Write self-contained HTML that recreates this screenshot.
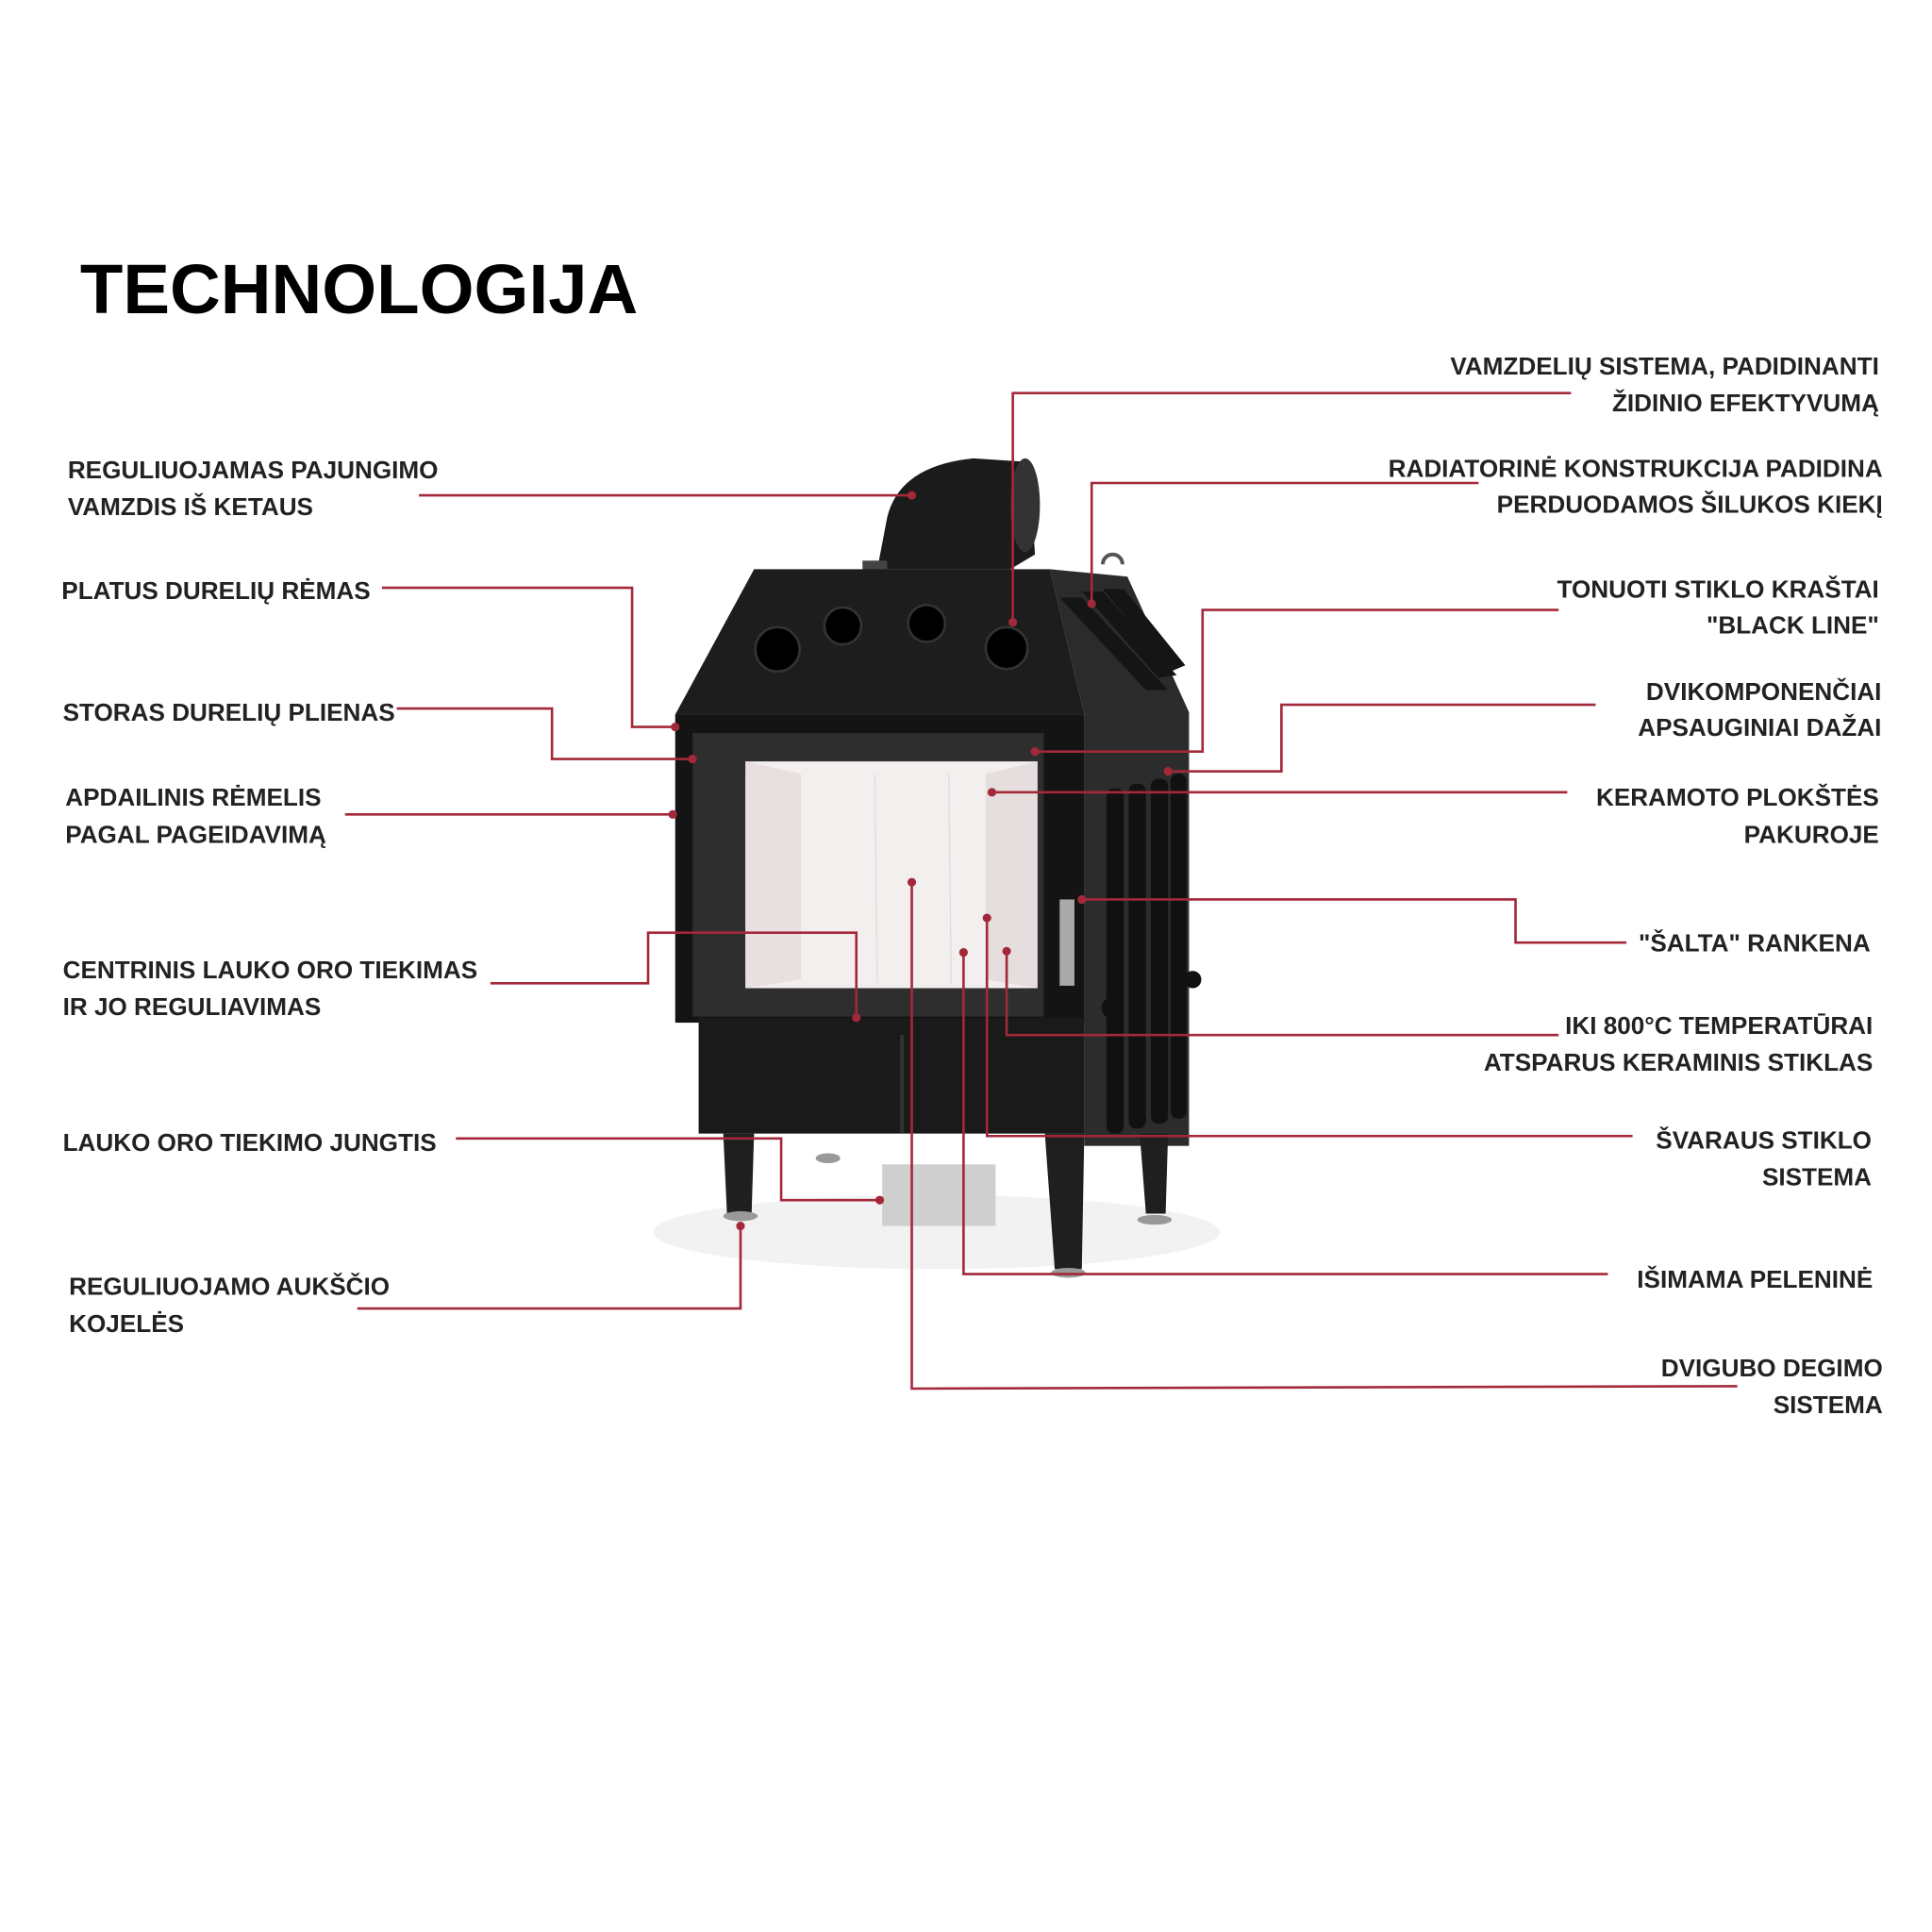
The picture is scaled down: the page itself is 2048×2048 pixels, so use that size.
<!DOCTYPE html>
<html><head><meta charset="utf-8"><style>
html,body{margin:0;padding:0;background:#fff}
svg{display:block}
text{font-family:"Liberation Sans",sans-serif;font-weight:bold;fill:#222}
</style></head><body>
<svg width="2048" height="2048" viewBox="0 0 1568 1568" xmlns="http://www.w3.org/2000/svg">
<rect width="1568" height="1568" fill="#fff"/>
<text x="65" y="254" font-size="57" style="fill:#000">TECHNOLOGIJA</text>

<g>
<ellipse cx="760" cy="1000" rx="230" ry="30" fill="#f2f2f2"/>
<rect x="716" y="945" width="92" height="50" fill="#cfcfcf"/>
<path d="M712,462 L720,420 Q730,378 790,372 L835,375 L840,450 L820,462 Z" fill="#1b1b1b"/>
<ellipse cx="832" cy="410" rx="12" ry="38" fill="#333"/>
<rect x="700" y="455" width="20" height="10" fill="#444"/>
<polygon points="612,462 852,462 880,580 548,580" fill="#1d1d1d"/>
<polygon points="852,462 915,468 965,578 880,580" fill="#2b2b2b"/>
<path d="M895,458 a8,8 0 1 1 16,0" fill="none" stroke="#555" stroke-width="3"/>
<g fill="#151515">
<polygon points="860,485 878,485 948,560 930,560"/>
<polygon points="878,480 895,480 955,548 940,550"/>
<polygon points="895,478 912,478 962,540 950,545"/>
</g>
<circle cx="631" cy="527" r="18" fill="#000" stroke="#333" stroke-width="2"/>
<circle cx="684" cy="508" r="15" fill="#000" stroke="#333" stroke-width="2"/>
<circle cx="752" cy="506" r="15" fill="#000" stroke="#333" stroke-width="2"/>
<circle cx="817" cy="526" r="17" fill="#000" stroke="#333" stroke-width="2"/>
<rect x="880" y="578" width="85" height="352" fill="#2c2c2c"/>
<g fill="#111">
<rect x="898" y="640" width="14" height="280" rx="6"/>
<rect x="916" y="636" width="14" height="280" rx="6"/>
<rect x="934" y="632" width="14" height="280" rx="6"/>
<rect x="950" y="628" width="13" height="280" rx="6"/>
</g>
<circle cx="968" cy="795" r="7" fill="#111"/>
<circle cx="903" cy="818" r="9" fill="#111"/>
<rect x="548" y="580" width="332" height="250" fill="#141414"/>
<rect x="562" y="595" width="285" height="230" fill="#2e2e2e"/>
<polygon points="605,618 842,618 842,802 605,802" fill="#f4efef"/>
<polygon points="605,618 650,628 650,795 605,802" fill="#e8e0e0"/>
<polygon points="842,618 800,628 800,795 842,802" fill="#e6dede"/>
<line x1="710" y1="628" x2="712" y2="798" stroke="#ddd"/>
<line x1="770" y1="628" x2="772" y2="798" stroke="#ddd"/>
<rect x="860" y="730" width="12" height="70" fill="#aaa"/>
<rect x="567" y="826" width="313" height="94" fill="#1a1a1a"/>
<line x1="732" y1="840" x2="732" y2="920" stroke="#333" stroke-width="3"/>
<polygon points="587,920 612,920 610,985 590,985" fill="#1f1f1f"/>
<polygon points="848,920 880,920 878,1030 856,1030" fill="#1f1f1f"/>
<polygon points="925,920 948,920 946,985 930,985" fill="#1f1f1f"/>
<ellipse cx="601" cy="987" rx="14" ry="4" fill="#999"/>
<ellipse cx="867" cy="1033" rx="14" ry="4" fill="#999"/>
<ellipse cx="937" cy="990" rx="14" ry="4" fill="#999"/>
<ellipse cx="672" cy="940" rx="10" ry="4" fill="#999"/>
</g>

<g fill="none" stroke="#a3283a" stroke-width="2">
<polyline points="340,402 740,402"/>
<polyline points="310,477 513,477 513,590 548,590"/>
<polyline points="322,575 448,575 448,616 562,616"/>
<polyline points="280,661 546,661"/>
<polyline points="398,798 526,798 526,757 695,757 695,826"/>
<polyline points="370,924 634,924 634,974 714,974"/>
<polyline points="290,1062 601,1062 601,995"/>
<polyline points="1275,319 822,319 822,505"/>
<polyline points="1200,392 886,392 886,490"/>
<polyline points="1265,495 976,495 976,610 840,610"/>
<polyline points="1295,572 1040,572 1040,626 948,626"/>
<polyline points="1272,643 805,643"/>
<polyline points="1320,765 1230,765 1230,730 878,730"/>
<polyline points="1265,840 817,840 817,772"/>
<polyline points="1325,922 801,922 801,745"/>
<polyline points="1305,1034 782,1034 782,773"/>
<polyline points="1410,1125 740,1127 740,716"/>
</g>
<g fill="#a3283a">
<circle cx="740" cy="402" r="3.5"/><circle cx="548" cy="590" r="3.5"/>
<circle cx="562" cy="616" r="3.5"/><circle cx="546" cy="661" r="3.5"/>
<circle cx="695" cy="826" r="3.5"/><circle cx="714" cy="974" r="3.5"/>
<circle cx="601" cy="995" r="3.5"/><circle cx="822" cy="505" r="3.5"/>
<circle cx="886" cy="490" r="3.5"/><circle cx="840" cy="610" r="3.5"/>
<circle cx="948" cy="626" r="3.5"/><circle cx="805" cy="643" r="3.5"/>
<circle cx="878" cy="730" r="3.5"/><circle cx="817" cy="772" r="3.5"/>
<circle cx="801" cy="745" r="3.5"/><circle cx="782" cy="773" r="3.5"/>
<circle cx="740" cy="716" r="3.5"/>
</g>

<g font-size="20">
<text x="55" y="388">REGULIUOJAMAS PAJUNGIMO</text>
<text x="55" y="418">VAMZDIS IŠ KETAUS</text>
<text x="50" y="486">PLATUS DURELIŲ RĖMAS</text>
<text x="51" y="585">STORAS DURELIŲ PLIENAS</text>
<text x="53" y="654">APDAILINIS RĖMELIS</text>
<text x="53" y="684">PAGAL PAGEIDAVIMĄ</text>
<text x="51" y="794">CENTRINIS LAUKO ORO TIEKIMAS</text>
<text x="51" y="824">IR JO REGULIAVIMAS</text>
<text x="51" y="934">LAUKO ORO TIEKIMO JUNGTIS</text>
<text x="56" y="1051">REGULIUOJAMO AUKŠČIO</text>
<text x="56" y="1081">KOJELĖS</text>
</g>
<g font-size="20" text-anchor="end">
<text x="1525" y="304">VAMZDELIŲ SISTEMA, PADIDINANTI</text>
<text x="1525" y="334">ŽIDINIO EFEKTYVUMĄ</text>
<text x="1528" y="387">RADIATORINĖ KONSTRUKCIJA PADIDINA</text>
<text x="1528" y="416">PERDUODAMOS ŠILUKOS KIEKĮ</text>
<text x="1525" y="485">TONUOTI STIKLO KRAŠTAI</text>
<text x="1525" y="514">"BLACK LINE"</text>
<text x="1527" y="568">DVIKOMPONENČIAI</text>
<text x="1527" y="597">APSAUGINIAI DAŽAI</text>
<text x="1525" y="654">KERAMOTO PLOKŠTĖS</text>
<text x="1525" y="684">PAKUROJE</text>
<text x="1518" y="772">"ŠALTA" RANKENA</text>
<text x="1520" y="839">IKI 800°C TEMPERATŪRAI</text>
<text x="1520" y="869">ATSPARUS KERAMINIS STIKLAS</text>
<text x="1519" y="932">ŠVARAUS STIKLO</text>
<text x="1519" y="962">SISTEMA</text>
<text x="1520" y="1045">IŠIMAMA PELENINĖ</text>
<text x="1528" y="1117">DVIGUBO DEGIMO</text>
<text x="1528" y="1147">SISTEMA</text>
</g>
</svg>
</body></html>
